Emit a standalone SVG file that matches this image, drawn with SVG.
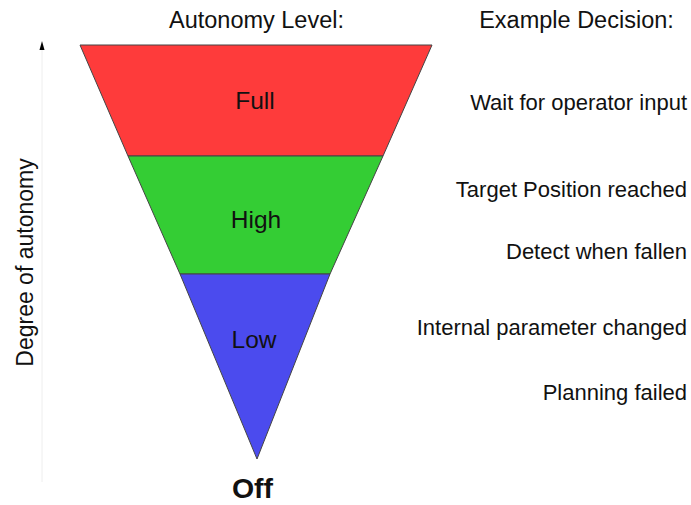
<svg xmlns="http://www.w3.org/2000/svg" width="691" height="505" viewBox="0 0 691 505">
<style>
text{font-family:"Liberation Sans",Arial,sans-serif;fill:#111}
.h{font-size:23.5px;text-anchor:middle}
.r{font-size:22px;text-anchor:end}
.l{font-size:24.5px;text-anchor:middle}
.band{stroke:#444;stroke-width:1}
</style>
<rect width="691" height="505" fill="#fff"/>
<g id="axis">
<line x1="42" y1="50" x2="42" y2="482" stroke="#eee" stroke-width="1"/>
<polygon points="42,41 39.5,50 44.5,50" fill="#000"/>
<text transform="translate(33,262.5) rotate(-90)" text-anchor="middle" font-size="23">Degree of autonomy</text>
</g>
<text class="h" x="256.5" y="28">Autonomy Level:</text>
<text class="h" x="576.5" y="28">Example Decision:</text>
<g id="full">
<polygon class="band" points="80,45 432,45 383,156 128,156" fill="#fe3b3b"/>
<text class="l" x="255" y="109">Full</text>
</g>
<g id="high">
<polygon class="band" points="128,156 383,156 330,274 180,274" fill="#34cd34"/>
<text class="l" x="256" y="228">High</text>
</g>
<g id="low">
<polygon class="band" points="180,274 330,274 257,459" fill="#4b4bee"/>
<text class="l" x="254" y="348">Low</text>
</g>
<text x="252.5" y="498" text-anchor="middle" font-size="28.5" font-weight="bold">Off</text>
<g id="examples">
<text class="r" x="687" y="110">Wait for operator input</text>
<text class="r" x="687" y="197">Target Position reached</text>
<text class="r" x="687" y="259">Detect when fallen</text>
<text class="r" x="687" y="335">Internal parameter changed</text>
<text class="r" x="687" y="400">Planning failed</text>
</g>
<g id="connectors"></g>
</svg>
